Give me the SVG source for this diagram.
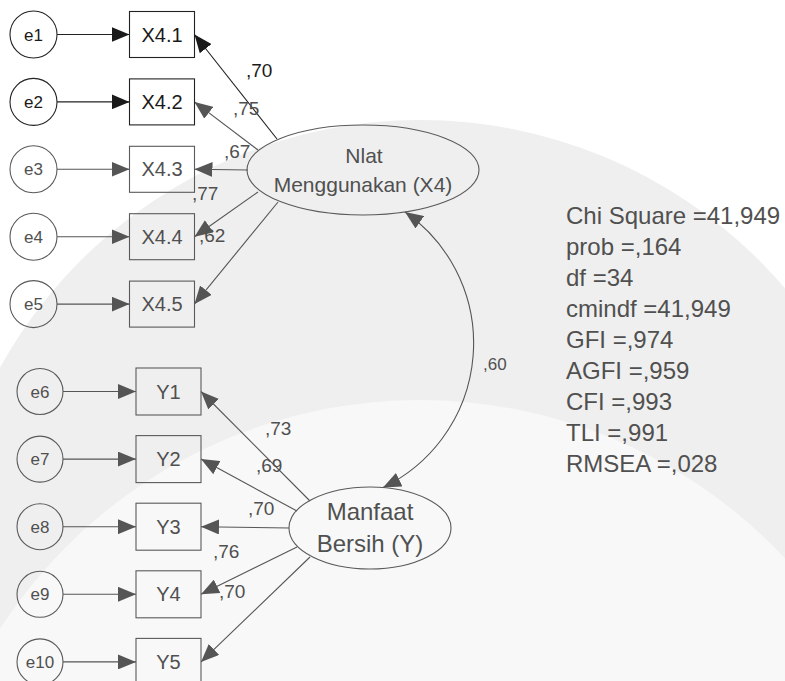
<svg xmlns="http://www.w3.org/2000/svg" width="785" height="681" viewBox="0 0 785 681">
<style>
  .node{fill:#ffffff;fill-opacity:0;stroke:#5a5a5a;stroke-width:1.1}
  .dk .node{stroke:#222222}
  .t{font-family:"Liberation Sans",Arial,sans-serif;fill:#505050;text-anchor:middle}
  .dk .t{fill:#1a1a1a}
  .err{font-size:17px}
  .obs{font-size:20px}
  .lx{font-size:21px}
  .ly{font-size:24px}
  .ln{fill:none;stroke:#555555;stroke-width:1.1;marker-end:url(#ag)}
  .ln.k{stroke:#222222;marker-end:url(#ak)}
  .lab{font-family:"Liberation Sans",Arial,sans-serif;font-size:19px;fill:#505050}
  .stat{font-family:"Liberation Sans",Arial,sans-serif;font-size:24px;fill:#505050}
</style>
<defs>
  <marker id="ag" markerUnits="userSpaceOnUse" markerWidth="19" markerHeight="15" refX="18" refY="7.5" orient="auto-start-reverse">
    <path d="M0,0 L18,7.5 L0,15 Z" fill="#555555"/>
  </marker>
  <marker id="ak" markerUnits="userSpaceOnUse" markerWidth="19" markerHeight="15" refX="18" refY="7.5" orient="auto-start-reverse">
    <path d="M0,0 L18,7.5 L0,15 Z" fill="#1a1a1a"/>
  </marker>
</defs>
<rect width="785" height="681" fill="#ffffff"/>
<g id="watermark">
  <circle cx="420" cy="600" r="480" fill="#efefef"/>
  <circle cx="420" cy="900" r="500" fill="#f8f8f8"/>
</g>

<g id="connectors">
  <line class="ln k" x1="57" y1="34.5" x2="129.5" y2="34.5"/>
  <line class="ln k" x1="57" y1="101.9" x2="129.5" y2="101.9"/>
  <line class="ln" x1="57" y1="169.3" x2="129.5" y2="169.3"/>
  <line class="ln" x1="57" y1="236.7" x2="129.5" y2="236.7"/>
  <line class="ln" x1="57" y1="304.1" x2="129.5" y2="304.1"/>
  <line class="ln" x1="63" y1="391.5" x2="136" y2="391.5"/>
  <line class="ln" x1="63" y1="459.1" x2="136" y2="459.1"/>
  <line class="ln" x1="63" y1="526.7" x2="136" y2="526.7"/>
  <line class="ln" x1="63" y1="594.3" x2="136" y2="594.3"/>
  <line class="ln" x1="63" y1="661.9" x2="136" y2="661.9"/>

  <line class="ln k" x1="277" y1="139" x2="194.5" y2="34.5"/>
  <line class="ln" x1="258" y1="150" x2="194.5" y2="101.9"/>
  <line class="ln" x1="248" y1="170" x2="194.5" y2="169.3"/>
  <line class="ln" x1="258" y1="192" x2="194.5" y2="236.7"/>
  <line class="ln" x1="278" y1="202" x2="194.5" y2="304.1"/>

  <line class="ln" x1="310" y1="501" x2="201" y2="391.5"/>
  <line class="ln" x1="297" y1="511" x2="201" y2="459.1"/>
  <line class="ln" x1="289" y1="528" x2="201" y2="526.7"/>
  <line class="ln" x1="297" y1="547" x2="201" y2="594.3"/>
  <line class="ln" x1="310" y1="557" x2="201" y2="661.9"/>

  <path class="ln" d="M405,212 A160,160 0 0 1 383,487.5" style="marker-start:url(#ag)"/>

  <text class="lab" x="246" y="77" style="fill:#1a1a1a">,70</text>
  <text class="lab" x="233" y="115">,75</text>
  <text class="lab" x="224" y="158">,67</text>
  <text class="lab" x="192" y="200">,77</text>
  <text class="lab" x="199" y="242">,62</text>
  <text class="lab" x="265" y="435">,73</text>
  <text class="lab" x="256" y="472">,69</text>
  <text class="lab" x="248" y="515">,70</text>
  <text class="lab" x="213" y="558">,76</text>
  <text class="lab" x="219" y="598">,70</text>
  <text class="lab" x="483" y="370" style="font-size:17px">,60</text>
</g>

<g id="e1" class="dk"><circle class="node" cx="33.5" cy="34.5" r="23.5"/><text class="t err" x="33.5" y="40.5">e1</text></g>
<g id="e2" class="dk"><circle class="node" cx="33.5" cy="101.9" r="23.5"/><text class="t err" x="33.5" y="107.9">e2</text></g>
<g id="e3"><circle class="node" cx="33.5" cy="169.3" r="23.5"/><text class="t err" x="33.5" y="175.3">e3</text></g>
<g id="e4"><circle class="node" cx="33.5" cy="236.7" r="23.5"/><text class="t err" x="33.5" y="242.7">e4</text></g>
<g id="e5"><circle class="node" cx="33.5" cy="304.1" r="23.5"/><text class="t err" x="33.5" y="310.1">e5</text></g>

<g id="X4.1" class="dk"><rect class="node" x="129.5" y="11.5" width="65" height="46"/><text class="t obs" x="162" y="41.5">X4.1</text></g>
<g id="X4.2" class="dk"><rect class="node" x="129.5" y="78.9" width="65" height="46"/><text class="t obs" x="162" y="108.9">X4.2</text></g>
<g id="X4.3"><rect class="node" x="129.5" y="146.3" width="65" height="46"/><text class="t obs" x="162" y="176.3">X4.3</text></g>
<g id="X4.4"><rect class="node" x="129.5" y="213.7" width="65" height="46"/><text class="t obs" x="162" y="243.7">X4.4</text></g>
<g id="X4.5"><rect class="node" x="129.5" y="281.1" width="65" height="46"/><text class="t obs" x="162" y="311.1">X4.5</text></g>

<g id="X4"><ellipse class="node" cx="363" cy="170" rx="116" ry="45"/>
  <text class="t lx" x="364" y="163">Nlat</text>
  <text class="t lx" x="363" y="192">Menggunakan (X4)</text></g>

<g id="e6"><circle class="node" cx="40" cy="391.5" r="23"/><text class="t err" x="40" y="397.5">e6</text></g>
<g id="e7"><circle class="node" cx="40" cy="459.1" r="23"/><text class="t err" x="40" y="465.1">e7</text></g>
<g id="e8"><circle class="node" cx="40" cy="526.7" r="23"/><text class="t err" x="40" y="532.7">e8</text></g>
<g id="e9"><circle class="node" cx="40" cy="594.3" r="23"/><text class="t err" x="40" y="600.3">e9</text></g>
<g id="e10"><circle class="node" cx="40" cy="661.9" r="23"/><text class="t err" x="40" y="667.9">e10</text></g>

<g id="Y1"><rect class="node" x="136" y="368" width="65" height="47"/><text class="t obs" x="168.5" y="398.5">Y1</text></g>
<g id="Y2"><rect class="node" x="136" y="435.6" width="65" height="47"/><text class="t obs" x="168.5" y="466.1">Y2</text></g>
<g id="Y3"><rect class="node" x="136" y="503.2" width="65" height="47"/><text class="t obs" x="168.5" y="533.7">Y3</text></g>
<g id="Y4"><rect class="node" x="136" y="570.8" width="65" height="47"/><text class="t obs" x="168.5" y="601.3">Y4</text></g>
<g id="Y5"><rect class="node" x="136" y="638.4" width="65" height="47"/><text class="t obs" x="168.5" y="668.9">Y5</text></g>

<g id="Y"><ellipse class="node" cx="370" cy="528" rx="81" ry="41"/>
  <text class="t ly" x="370" y="520">Manfaat</text>
  <text class="t ly" x="370" y="552">Bersih (Y)</text></g>

<g id="stats">
  <text class="stat" x="566" y="224">Chi Square =41,949</text>
  <text class="stat" x="566" y="255">prob =,164</text>
  <text class="stat" x="566" y="286">df =34</text>
  <text class="stat" x="566" y="317">cmindf =41,949</text>
  <text class="stat" x="566" y="348">GFI =,974</text>
  <text class="stat" x="566" y="379">AGFI =,959</text>
  <text class="stat" x="566" y="410">CFI =,993</text>
  <text class="stat" x="566" y="441">TLI =,991</text>
  <text class="stat" x="566" y="472">RMSEA =,028</text>
</g>
</svg>
